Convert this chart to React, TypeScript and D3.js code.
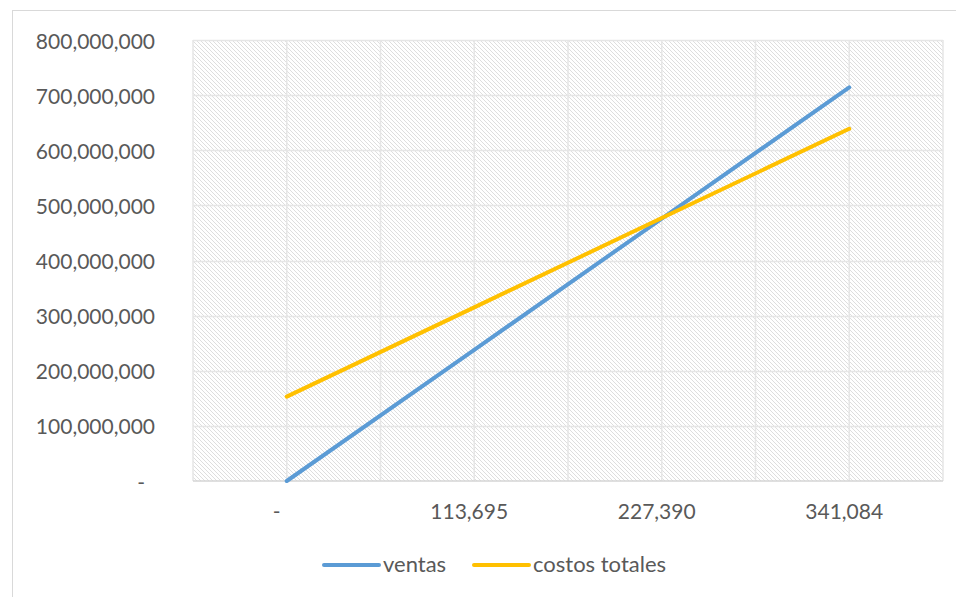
import React from "react";
import * as d3 from "d3";

const categories = [0, 113695, 227390, 341084];
const ventas = [0, 238000000, 476000000, 714000000];
const costosTotales = [153000000, 315000000, 477000000, 639000000];
const yTicks = [0, 100000000, 200000000, 300000000, 400000000, 500000000, 600000000, 700000000, 800000000];
const seriesNames = ["ventas", "costos totales"];
const seriesColors = ["#5B9BD5", "#FFC000"];

const W = 956;
const H = 597;
const plot = { left: 193, right: 943, top: 40, bottom: 481 };
const FONT = "Lato, 'Open Sans', sans-serif";
const TEXT = "#595959";

const fmt = (v: number) => (v === 0 ? "-" : d3.format(",")(v));

export default function App() {
  const x = d3
    .scalePoint<number>()
    .domain(categories)
    .range([plot.left, plot.right])
    .padding(0.5);
  const step = x.step();
  const y = d3.scaleLinear().domain([0, 800000000]).range([plot.bottom, plot.top]);

  const vGrid: number[] = [];
  for (let i = 1; i < categories.length * 2; i++) vGrid.push(plot.left + (i * step) / 2);

  const line = d3
    .line<number>()
    .x((_, i) => x(categories[i]) as number)
    .y((d) => y(d));

  const series = [ventas, costosTotales];

  return (
    <div style={{ position: "absolute", left: 0, top: 0 }}>
      <svg width={W} height={H} style={{ display: "block", background: "#fff" }}>
        <defs>
          <pattern id="hatch" width="4" height="4" patternUnits="userSpaceOnUse">
            <rect width="4" height="4" fill="#ffffff" />
            <rect x="0" y="0" width="1" height="1" fill="#dedede" />
            <rect x="1" y="1" width="1" height="1" fill="#dedede" />
            <rect x="2" y="2" width="1" height="1" fill="#dedede" />
            <rect x="3" y="3" width="1" height="1" fill="#dedede" />
          </pattern>
        </defs>
        <rect x={12.5} y={10.5} width={W} height={H} fill="#fff" stroke="#d9d9d9" strokeWidth={1} />
        <rect
          x={plot.left}
          y={plot.top}
          width={plot.right - plot.left}
          height={plot.bottom - plot.top}
          fill="url(#hatch)"
        />
        {yTicks.slice(1).map((t) => (
          <line key={"h" + t} x1={plot.left} x2={plot.right} y1={Math.round(y(t)) + 0.5} y2={Math.round(y(t)) + 0.5} stroke="#e6e6e6" strokeWidth={1.5} />
        ))}
        {vGrid.map((g, i) => (
          <line key={"v" + i} x1={g} x2={g} y1={plot.top} y2={plot.bottom} stroke="#e6e6e6" strokeWidth={1.5} />
        ))}
        <line x1={plot.left} x2={plot.left} y1={plot.top} y2={plot.bottom} stroke="#e6e6e6" strokeWidth={1.5} />
        <line x1={plot.right} x2={plot.right} y1={plot.top} y2={plot.bottom} stroke="#e6e6e6" strokeWidth={1.5} />
        <line x1={plot.left} x2={plot.right} y1={plot.bottom} y2={plot.bottom} stroke="#d4d4d4" strokeWidth={1.5} />

        {yTicks.map((t) => (
          <text
            key={"yl" + t}
            x={t === 0 ? 145 : 155}
            y={y(t)}
            textAnchor="end"
            dominantBaseline="central"
            fontFamily={FONT}
            fontSize={21}
            fill={TEXT}
          >
            {fmt(t)}
          </text>
        ))}
        {categories.map((c) => (
          <text
            key={"xl" + c}
            x={(x(c) as number) - (c === 0 ? 10 : 5)}
            y={519}
            textAnchor="middle"
            fontFamily={FONT}
            fontSize={21}
            fill={TEXT}
          >
            {fmt(c)}
          </text>
        ))}

        {series.map((s, i) => (
          <path key={"s" + i} d={line(s) as string} fill="none" stroke={seriesColors[i]} strokeWidth={4} strokeLinecap="round" strokeLinejoin="round" />
        ))}

        {[324, 474].map((lx, i) => (
          <g key={"lg" + i}>
            <line x1={lx} x2={lx + 55} y1={565} y2={565} stroke={seriesColors[i]} strokeWidth={4} strokeLinecap="round" />
            <text x={lx + 59} y={572} fontFamily={FONT} fontSize={22} fill={TEXT}>
              {seriesNames[i]}
            </text>
          </g>
        ))}
      </svg>
    </div>
  );
}
